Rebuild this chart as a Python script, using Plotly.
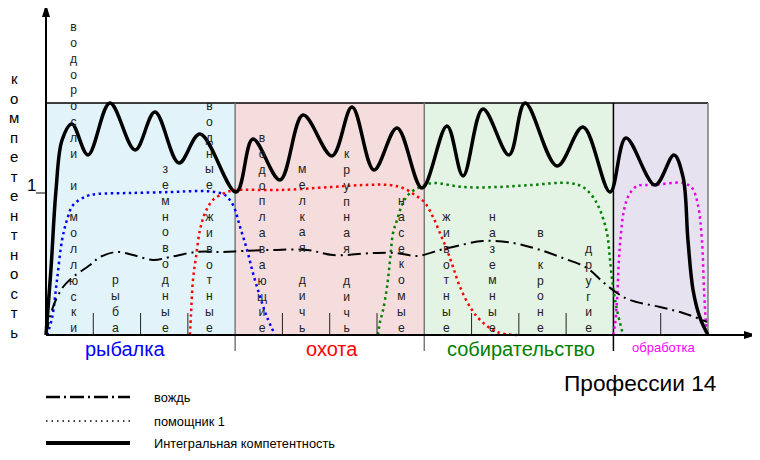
import plotly.graph_objects as go

# ---------------- data ----------------
# x: 10 units per profession block, y: competence (1 = reference level)
sections = ["рыбалка", "охота", "собирательство", "обработка"]
section_start = [0, 10, 20, 30]
section_end = [10, 20, 30, 35]
section_label_x = [4.18, 15.12, 25.11, 32.67]
section_text_color = ["#0000ff", "#ff0000", "#008000", "#ff00ff"]
section_fill = ["#e2f4fa", "#f6dddd", "#e3f3e4", "#e6e2f0"]
section_font = [20, 20, 20, 13]

subcategories = ["водоросли и моллюски", "рыба", "земноводные", "водные животные",
                 "водоплавающие", "мелкая дичь", "крупная дичь", "насекомые",
                 "животные", "наземные", "в кроне", "другие"]
subcategory_x = [1.43, 3.70, 6.34, 8.67, 11.42, 13.54, 15.91, 18.82,
                 21.15, 23.63, 26.17, 28.71]
subdivider_x = [2.5, 5, 7.5, 12.5, 15, 17.5, 22.5, 25, 27.5, 32.5]
block_top = 1.634

integral_x = [0, 0.26, 0.53, 0.85, 1.37, 2.22, 3.38, 4.71, 5.76, 7.03, 8.14, 10.05,
              10.94, 12.37, 13.59, 15.12, 16.18, 17.34, 18.56, 19.88, 21.20, 22.05,
              23.10, 24.48, 25.33, 27.02, 28.39, 29.82, 30.66, 32.20, 33.20, 33.68,
              33.94, 34.21, 34.58, 35.0]
integral_y = [0, 0.458, 1.021, 1.373, 1.486, 1.268, 1.634, 1.303, 1.570, 1.211, 1.415, 1.007,
              1.380, 1.092, 1.549, 1.261, 1.606, 1.162, 1.458, 1.035, 1.472, 1.120,
              1.592, 1.268, 1.634, 1.190, 1.465, 1.007, 1.387, 1.056, 1.268, 1.113,
              0.669, 0.317, 0.120, 0]

chief_x = [0, 0.37, 0.90, 1.43, 2.33, 2.86, 3.75, 4.60, 5.66, 6.56, 7.98, 9.36, 10.42,
           12.00, 13.80, 15.17, 17.29, 18.56, 19.62, 20.83, 21.73, 23.10, 24.69, 25.96,
           27.33, 28.60, 29.45, 30.19, 30.88, 32.46, 33.68, 34.95]
chief_y = [0, 0.197, 0.338, 0.408, 0.493, 0.549, 0.585, 0.563, 0.528, 0.549, 0.585, 0.585,
           0.592, 0.599, 0.599, 0.563, 0.577, 0.577, 0.556, 0.599, 0.627, 0.662, 0.648,
           0.606, 0.542, 0.472, 0.373, 0.296, 0.246, 0.197, 0.155, 0.092]

fish_x = [0.05, 0.32, 0.58, 0.85, 1.11, 1.43, 2.17, 2.70, 4.44, 6.56, 8.14, 8.94, 9.46,
          9.89, 10.26, 10.63, 10.94, 11.32, 11.68, 12.11]
fish_y = [0, 0.120, 0.387, 0.669, 0.810, 0.915, 0.979, 0.993, 1.0, 1.007, 1.014, 1.007,
          0.986, 0.915, 0.761, 0.599, 0.437, 0.268, 0.127, 0]

hunt_x = [7.61, 7.67, 7.77, 7.93, 8.14, 8.41, 8.83, 9.57, 10.10, 12.37, 15.02, 16.76,
          18.19, 18.87, 19.51, 20.04, 20.46, 20.83, 21.20, 21.52, 21.89, 22.42, 22.95,
          23.84, 24.90]
hunt_y = [0, 0.155, 0.387, 0.549, 0.739, 0.859, 0.951, 1.007, 1.021, 1.021, 1.042, 1.056,
          1.056, 1.035, 0.986, 0.930, 0.831, 0.718, 0.599, 0.479, 0.338, 0.197, 0.106,
          0.021, 0]

gather_x = [17.55, 17.66, 17.82, 18.03, 18.19, 18.35, 18.56, 18.87, 19.25, 19.78, 20.46,
            22.05, 23.84, 25.59, 27.70, 28.39, 28.92, 29.29, 29.66, 29.82, 29.98, 30.19,
            30.51]
gather_y = [0, 0.092, 0.176, 0.338, 0.528, 0.718, 0.810, 0.930, 1.0, 1.042, 1.070,
            1.042, 1.042, 1.056, 1.070, 1.042, 0.972, 0.880, 0.718, 0.528, 0.338, 0.176, 0]

proc_x = [29.98, 30.08, 30.19, 30.29, 30.40, 30.56, 30.82, 31.25, 32.09, 33.68, 34.16,
          34.47, 34.68, 34.79, 34.89, 34.95]
proc_y = [0, 0.070, 0.246, 0.528, 0.718, 0.880, 0.986, 1.049, 1.056, 1.070, 1.035,
          0.915, 0.669, 0.317, 0.085, 0]

helper_series = [(fish_x, fish_y, "#0000ff"), (hunt_x, hunt_y, "#ff0000"),
                 (gather_x, gather_y, "#008000"), (proc_x, proc_y, "#e600e6")]

legend_labels = ["вождь", "помощник 1", "Интегральная компетентность"]
y_title = "компетентность"
chart_title = "Профессии 14"

# ---------------- page geometry (page pixels -> data) ----------------
PAGE_W, PAGE_H = 760, 460
BODY_MARGIN = 8                 # default page margin around the figure div
X0_PX, Y0_PX = 46, 335          # origin of the chart on the page
PX_PER_X, PX_PER_Y = 18.914, 142.0


def px2x(px):
    return (px - X0_PX) / PX_PER_X


def px2y(py):
    return (Y0_PX - py) / PX_PER_Y


def vertical(text):
    return "<br>".join(ch if ch != " " else "\u00a0" for ch in text)


FONT = "Liberation Sans, Arial, sans-serif"

fig = go.Figure()

# helper (dotted) curves
for xs, ys, col in helper_series:
    fig.add_trace(go.Scatter(x=xs, y=ys, mode="lines",
                             line=dict(color=col, width=2.5, dash="2.5px,3.5px",
                                       shape="spline", smoothing=1),
                             hoverinfo="skip", showlegend=False))

# chief (dash-dot)
fig.add_trace(go.Scatter(x=chief_x, y=chief_y, mode="lines",
                         line=dict(color="black", width=2, dash="13px,5px,2px,5px",
                                   shape="spline", smoothing=1),
                         hoverinfo="skip", showlegend=False))

# integral competence
fig.add_trace(go.Scatter(x=integral_x, y=integral_y, mode="lines",
                         line=dict(color="black", width=3.5, shape="spline", smoothing=1),
                         hoverinfo="skip", showlegend=False))

shapes = []
annotations = []

# blocks
for s, e, f in zip(section_start, section_end, section_fill):
    shapes.append(dict(type="rect", xref="x", yref="y", x0=s, x1=e, y0=0, y1=block_top,
                       fillcolor=f, line=dict(width=0), layer="below"))
shapes.append(dict(type="line", xref="x", yref="y", x0=0, x1=section_end[-1],
                   y0=block_top, y1=block_top, line=dict(color="black", width=1.5),
                   layer="below"))
for i, e in enumerate(section_end):
    col = "black" if i == 2 else "#7a7a7a"
    bottom = 0 if i == len(section_end) - 1 else px2y(351)
    shapes.append(dict(type="line", xref="x", yref="y", x0=e, x1=e, y0=bottom, y1=block_top,
                       line=dict(color=col, width=1.5), layer="below"))

# sub dividers
for sx in subdivider_x:
    shapes.append(dict(type="line", xref="x", yref="y", x0=sx, x1=sx, y0=0,
                       y1=px2y(313), line=dict(color="#222222", width=1)))

# axes
shapes.append(dict(type="line", xref="x", yref="y", x0=0, x1=px2x(747), y0=0, y1=0,
                   line=dict(color="black", width=2)))
shapes.append(dict(type="line", xref="x", yref="y", x0=0, x1=0, y0=0, y1=px2y(15),
                   line=dict(color="black", width=2)))
# arrow heads
shapes.append(dict(type="path", xref="x", yref="y", fillcolor="black", line=dict(width=0),
                   path=f"M {px2x(42)},{px2y(17)} L {px2x(46)},{px2y(4)} L {px2x(50)},{px2y(17)} Z"))
shapes.append(dict(type="path", xref="x", yref="y", fillcolor="black", line=dict(width=0),
                   path=f"M {px2x(744)},{px2y(331)} L {px2x(757)},{px2y(335)} L {px2x(744)},{px2y(339)} Z"))
# tick at 1
shapes.append(dict(type="line", xref="x", yref="y", x0=px2x(36), x1=0, y0=1, y1=1,
                   line=dict(color="black", width=1)))
annotations.append(dict(x=px2x(31), y=px2y(185), text="1", showarrow=False,
                        font=dict(family=FONT, size=17, color="black")))

# y title
annotations.append(dict(x=px2x(13.5), y=px2y(205), text=vertical(y_title), showarrow=False,
                        font=dict(family=FONT, size=15, color="black")))

# subcategory labels
for name, sx in zip(subcategories, subcategory_x):
    annotations.append(dict(x=sx, y=px2y(336), yanchor="bottom", text=vertical(name),
                            showarrow=False, borderpad=0,
                            font=dict(family=FONT, size=12.2, color="#222222")))

# section labels
for name, lx, col, fs in zip(sections, section_label_x, section_text_color, section_font):
    annotations.append(dict(x=lx, y=px2y(349 if fs > 15 else 347.5), text=name,
                            showarrow=False, font=dict(family=FONT, size=fs, color=col)))

# title
annotations.append(dict(x=px2x(562), y=px2y(383), xanchor="left", text=chart_title,
                        showarrow=False, font=dict(family=FONT, size=22.7, color="black")))

# manual legend
legend_rows_px = [397, 421, 443]
legend_styles = [dict(color="black", width=2.5, dash="14px,4px,2px,4px"),
                 dict(color="black", width=1.5, dash="1.5px,4px"),
                 dict(color="black", width=4)]
for lbl, ry, st in zip(legend_labels, legend_rows_px, legend_styles):
    shapes.append(dict(type="line", xref="x", yref="y", x0=0, x1=px2x(130),
                       y0=px2y(ry), y1=px2y(ry), line=st))
    annotations.append(dict(x=px2x(152), y=px2y(ry), xanchor="left", text=lbl,
                            showarrow=False, font=dict(family=FONT, size=12.8, color="black")))

fig.update_layout(
    width=PAGE_W - BODY_MARGIN, height=PAGE_H - BODY_MARGIN,
    margin=dict(l=0, r=0, t=0, b=0),
    paper_bgcolor="white", plot_bgcolor="white",
    xaxis=dict(range=[px2x(BODY_MARGIN), px2x(PAGE_W)], visible=False, fixedrange=True),
    yaxis=dict(range=[px2y(PAGE_H), px2y(BODY_MARGIN)], visible=False, fixedrange=True),
    shapes=shapes, annotations=annotations, showlegend=False,
)

fig.write_html("out.html")
